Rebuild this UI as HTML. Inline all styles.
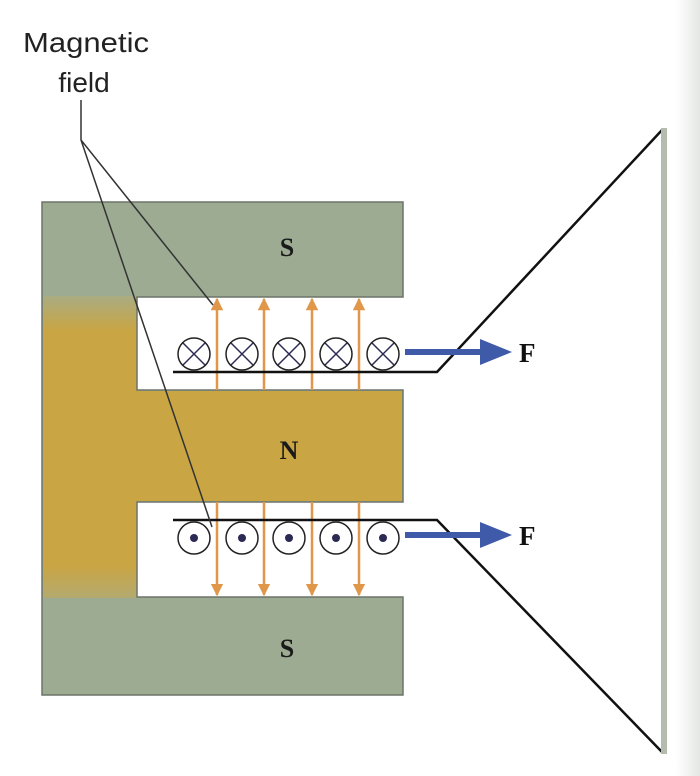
<!DOCTYPE html>
<html><head><meta charset="utf-8"><style>
html,body{margin:0;padding:0;background:#fff;}
svg{display:block;}
</style></head><body>
<svg width="700" height="776" viewBox="0 0 700 776" xmlns="http://www.w3.org/2000/svg">
<defs>
<linearGradient id="back" x1="0" y1="0" x2="0" y2="1">
<stop offset="0" stop-color="#9dab92"/>
<stop offset="0.18" stop-color="#a5ad8a"/>
<stop offset="0.26" stop-color="#c9a544"/>
<stop offset="0.74" stop-color="#c9a544"/>
<stop offset="0.84" stop-color="#a8ad88"/>
<stop offset="1" stop-color="#9dab92"/>
</linearGradient>
<linearGradient id="edge" x1="0" y1="0" x2="1" y2="0">
<stop offset="0" stop-color="#fff"/>
<stop offset="1" stop-color="#e4e6e4"/>
</linearGradient>
<marker id="oa" viewBox="0 0 10 10" refX="9" refY="5" markerWidth="5" markerHeight="5" orient="auto-start-reverse"><path d="M0,0 L10,5 L0,10 z" fill="#e0974a"/></marker>
</defs>
<rect x="676" y="0" width="24" height="776" fill="url(#edge)"/>
<path d="M42,202 H403 V297 H137 V390 H403 V502 H137 V597 H403 V695 H42 Z" fill="#9dab92"/>
<rect x="43" y="203" width="94" height="491" fill="url(#back)"/>
<rect x="137" y="391" width="265" height="110" fill="#c9a544"/>
<rect x="43" y="203" width="359" height="93" fill="#9dab92"/>
<rect x="43" y="598" width="359" height="96" fill="#9dab92"/>
<path d="M42,202 H403 V297 H137 V390 H403 V502 H137 V597 H403 V695 H42 Z" fill="none" stroke="#6d7468" stroke-width="1.5"/>
<g font-family="Liberation Serif,serif" font-weight="bold" font-size="26" fill="#1a1a1a" text-anchor="middle">
<text x="287" y="256">S</text><text x="289" y="459">N</text><text x="287" y="657">S</text>
</g>
<g stroke="#e0974a" stroke-width="2.5" marker-end="url(#oa)">
<line x1="217" y1="390" x2="217" y2="299"/><line x1="264" y1="390" x2="264" y2="299"/>
<line x1="312" y1="390" x2="312" y2="299"/><line x1="359" y1="390" x2="359" y2="299"/>
<line x1="217" y1="502" x2="217" y2="595"/><line x1="264" y1="502" x2="264" y2="595"/>
<line x1="312" y1="502" x2="312" y2="595"/><line x1="359" y1="502" x2="359" y2="595"/>
</g>
<g fill="#fff" stroke="#222" stroke-width="1.5">
<circle cx="194" cy="354" r="16"/><circle cx="242" cy="354" r="16"/><circle cx="289" cy="354" r="16"/><circle cx="336" cy="354" r="16"/><circle cx="383" cy="354" r="16"/>
<circle cx="194" cy="538" r="16"/><circle cx="242" cy="538" r="16"/><circle cx="289" cy="538" r="16"/><circle cx="336" cy="538" r="16"/><circle cx="383" cy="538" r="16"/>
</g>
<g stroke="#2a2a55" stroke-width="1.5">
<path d="M183,343 l22,22 M205,343 l-22,22 M231,343 l22,22 M253,343 l-22,22 M278,343 l22,22 M300,343 l-22,22 M325,343 l22,22 M347,343 l-22,22 M372,343 l22,22 M394,343 l-22,22"/>
</g>
<g fill="#2a2a55"><circle cx="194" cy="538" r="4"/><circle cx="242" cy="538" r="4"/><circle cx="289" cy="538" r="4"/><circle cx="336" cy="538" r="4"/><circle cx="383" cy="538" r="4"/></g>
<path d="M173,372 H437 L662,130" fill="none" stroke="#111" stroke-width="2.5"/>
<path d="M173,520 H437 L662,752" fill="none" stroke="#111" stroke-width="2.5"/>
<line x1="664" y1="128" x2="664" y2="754" stroke="#b4bcaf" stroke-width="6"/>
<g fill="#3e5aa8">
<rect x="405" y="349" width="78" height="6"/><path d="M480,339 L512,352 L480,365 Z"/>
<rect x="405" y="532" width="78" height="6"/><path d="M480,522 L512,535 L480,548 Z"/>
</g>
<g font-family="Liberation Serif,serif" font-weight="bold" font-size="27" fill="#111">
<text x="519" y="362">F</text><text x="519" y="545">F</text>
</g>
<g font-family="Liberation Sans,sans-serif" font-size="28" fill="#222" text-anchor="middle">
<text x="86" y="52" textLength="126" lengthAdjust="spacingAndGlyphs">Magnetic</text><text x="84" y="92">field</text>
</g>
<path d="M81,100 V140 L213,305 M81,140 L212,527" fill="none" stroke="#333" stroke-width="1.5"/>
</svg>
</body></html>
